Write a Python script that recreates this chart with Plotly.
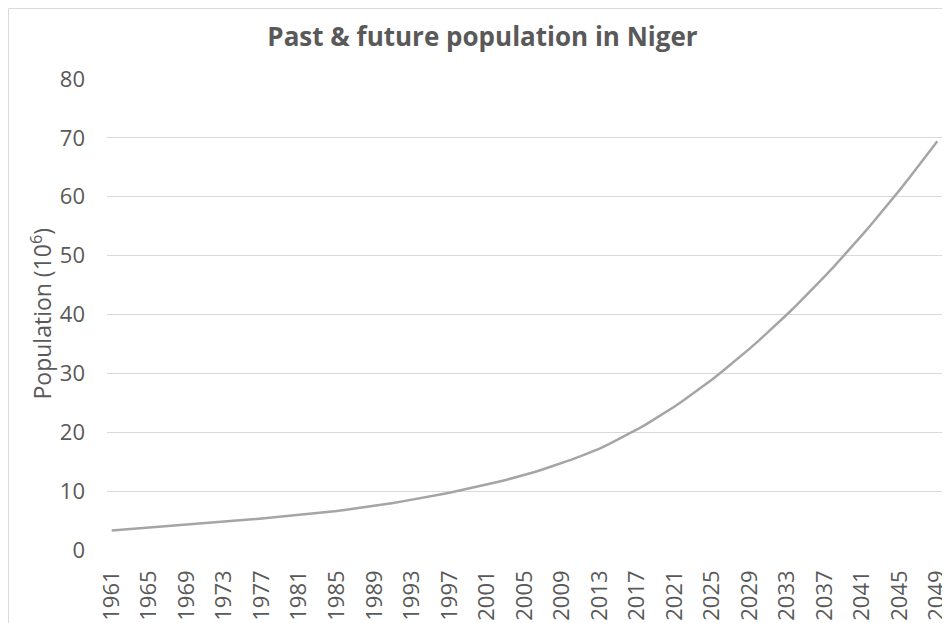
import plotly.graph_objects as go

years = [str(y) for y in range(1961, 2050)]
population = [
    3.30, 3.42, 3.53, 3.65, 3.77, 3.89, 4.02, 4.14, 4.27, 4.40,    # 1961-1970
    4.53, 4.67, 4.80, 4.94, 5.08, 5.22, 5.36, 5.51, 5.65, 5.80,    # 1971-1980
    5.95, 6.11, 6.27, 6.45, 6.64, 6.84, 7.05, 7.27, 7.50, 7.74,    # 1981-1990
    7.99, 8.26, 8.53, 8.82, 9.11, 9.42, 9.74, 10.07, 10.41, 10.76,  # 1991-2000
    11.12, 11.50, 11.89, 12.30, 12.74, 13.21, 13.71, 14.23, 14.77, 15.34,  # 2001-2010
    15.94, 16.57, 17.22, 17.97, 18.76, 19.59, 20.47, 21.38, 22.34, 23.34,  # 2011-2020
    24.38, 25.47, 26.59, 27.76, 28.97, 30.22, 31.51, 32.83, 34.20, 35.60,  # 2021-2030
    37.04, 38.52, 40.04, 41.59, 43.18, 44.81, 46.48, 48.18, 49.93, 51.71,  # 2031-2040
    53.52, 55.38, 57.27, 59.20, 61.17, 63.18, 65.22, 67.31, 69.43,         # 2041-2049
]
tick_years = [str(y) for y in range(1961, 2050, 4)]
y_ticks = [0, 10, 20, 30, 40, 50, 60, 70, 80]

title_text = "Past & future population in Niger"
y_title = "Population (10<sup>6</sup>)"

TEXT = "#595959"
GRID = "#d9d9d9"
FONT = "Open Sans, sans-serif"

fig = go.Figure()
fig.add_trace(go.Scatter(
    x=years, y=population, mode="lines",
    line=dict(color="#a5a5a5", width=2.5),
    showlegend=False, hoverinfo="x+y",
))

# page body has an 8px margin, so the figure is drawn 8px in from the corner
W, H = 942, 615
L, R, T, B = 99, 8, 71, 73
PW = W - L - R
PH = H - T - B

fig.update_layout(
    width=W, height=H,
    margin=dict(l=L, r=R, t=T, b=B, autoexpand=False),
    paper_bgcolor="white", plot_bgcolor="white",
    font=dict(family=FONT, color=TEXT, size=22),
    title=dict(
        text="<b>" + title_text + "</b>",
        x=474.5 / W, xref="container", xanchor="center",
        y=1 - 29 / H, yref="container", yanchor="middle",
        font=dict(family=FONT, size=26, color=TEXT),
    ),
    xaxis=dict(
        type="category",
        range=[-0.5, len(years) - 0.5],
        tickmode="array", tickvals=tick_years, ticktext=tick_years,
        tickangle=-90,
        showgrid=False, zeroline=False, showline=False,
        ticks="", ticklabelstandoff=15,
        tickfont=dict(family=FONT, size=22, color=TEXT),
    ),
    yaxis=dict(
        range=[0, 80],
        tickmode="array", tickvals=y_ticks,
        showgrid=True, gridcolor=GRID, gridwidth=1,
        zeroline=False, showline=False,
        ticks="", ticklabelstandoff=21,
        tickfont=dict(family=FONT, size=22, color=TEXT),
    ),
    annotations=[dict(
        text=y_title, textangle=-90,
        xref="paper", yref="paper",
        x=(33 - L) / PW, y=0.5,
        xanchor="center", yanchor="middle", showarrow=False,
        font=dict(family=FONT, size=23, color=TEXT),
    )],
    shapes=[dict(
        type="rect", xref="paper", yref="paper",
        x0=(0.5 - L) / PW, x1=(960 - L) / PW,
        y0=-0.2, y1=1 + (T - 0.5) / PH,
        line=dict(color=GRID, width=1), fillcolor="rgba(0,0,0,0)",
        layer="below",
    )],
)

fig.write_html("out.html")
